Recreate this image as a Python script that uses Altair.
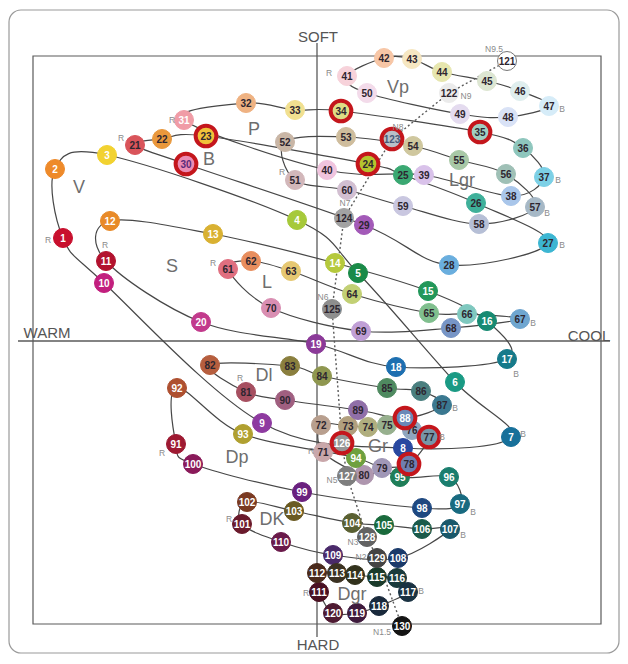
import altair as alt
import pandas as pd

# ---- colour numbers 1..130: position on the WARM(-)/COOL(+) and HARD(-)/SOFT(+) scale ----
nums = list(range(1, 131))
warm_cool = [
    -254, -262, -210, -20, 41, 138, 194, 86, -55, -213,
    -211, -207, -104, 18, 111, 170, 190, 79, -1, -116,
    -182, -155, -111, 51, 86, 159, 231, 132, 47, -131,
    -133, -71, -22, 24, 163, 206, 227, 194, 107, 10,
    30, 67, 95, 125, 170, 203, 232, 191, 143, 50,
    -22, -32, 29, 96, 142, 189, 218, 162, 86, 30,
    -89, -66, -26, 35, 112, 150, 203, 134, 44, -46,
    6, 4, 31, 51, 70, 95, 112, 92, 65, 47,
    -71, -107, -27, 5, 70, 104, 125, 88, 41, -32,
    -141, -140, -74, 39, 83, 132, 143, 105, -15, -124,
    -75, -70, -23, 35, 67, 105, 133, 81, 16, -36,
    2, 0, 20, 38, 60, 80, 91, 62, 40, 16,
    190, 132, 75, 27, 15, 25, 30, 50, 60, 85,
]
soft_hard = [
    103, 172, 186, 121, 68, -41, -96, -107, -82, 58,
    80, 120, 107, 78, 50, 20, -18, -26, -3, 19,
    196, 202, 205, 177, 166, 138, 98, 76, 116, 177,
    221, 238, 231, 230, 209, 193, 164, 145, 166, 171,
    265, 283, 282, 269, 260, 250, 235, 224, 227, 248,
    161, 199, 204, 195, 181, 167, 134, 117, 135, 151,
    72, 80, 70, 47, 28, 27, 22, 13, 10, 33,
    -111, -84, -85, -86, -84, -89, -96, -123, -127, -134,
    -51, -24, -25, -35, -47, -50, -64, -77, -69, -59,
    -103, -47, -93, -117, -136, -136, -163, -167, -151, -123,
    -183, -161, -170, -182, -184, -188, -188, -217, -214, -201,
    -251, -232, -232, -234, -236, -237, -251, -265, -272, -272,
    280, 248, 202, 123, 32, -102, -135, -196, -217, -285,
]
swatch = [
    "#c8102e", "#ee8a2a", "#f2d230", "#a6c93a", "#1a8a48", "#1a9a84", "#17709a", "#2848a0", "#8e3aa0", "#c21f7e",
    "#b2122e", "#e88a28", "#d9b132", "#b5c93c", "#22975a", "#178a72", "#167a8a", "#1d6fb0", "#8b3a98", "#c23a8c",
    "#d9545a", "#e9983c", "#f0c23a", "#b5c52e", "#3aa872", "#3fb09a", "#3cb6d2", "#6aaede", "#a35ab8", "#eb8cb4",
    "#f09ca6", "#efb282", "#f1e090", "#dede86", "#a0cfc2", "#8ec6bd", "#7cd0e6", "#a9c6ea", "#d9c2ea", "#f0c4de",
    "#f7d2da", "#f7c6a6", "#f6e7c2", "#e6e6ae", "#dde6d2", "#dfeeee", "#d6ecf8", "#d9e2f6", "#e4dbef", "#f3dbea",
    "#d2b7ba", "#c9b6a6", "#cfbd9d", "#cfc79e", "#a8c8a6", "#9fc0b6", "#a6b8c6", "#b6bfd6", "#c9c7e0", "#d2bfd1",
    "#e06f80", "#e88e5e", "#e6c872", "#c2d074", "#80bf8e", "#7fc8bf", "#6fa6d0", "#7795c6", "#c09fd6", "#d98eb2",
    "#c9a7aa", "#b89f8e", "#b19f7e", "#b0ae7e", "#97b08e", "#8fa6bf", "#7896a8", "#6f7fb0", "#a097b7", "#ae96ae",
    "#a64f60", "#b65e3e", "#8a7f3e", "#8f9750", "#4f8a60", "#4a7f7f", "#3a7890", "#6a88b8", "#906fa8", "#a05f80",
    "#9e1a32", "#ae5030", "#b0a030", "#6ea03e", "#1f7e58", "#1a7e6e", "#186a80", "#1e4880", "#6a207e", "#8a1a5a",
    "#6a1a2c", "#7a3a22", "#6a5a22", "#5a6032", "#1a6a3c", "#1a5a4a", "#1a586a", "#1a3a6a", "#4a2a6a", "#6a1a4a",
    "#4a1022", "#4a2a1c", "#3c3222", "#32321c", "#1a3a2a", "#1a3a3c", "#1a3242", "#1a2a3c", "#3e1a3c", "#4e1a32",
    "#ffffff", "#ebebeb", "#b9c0c8", "#a2a2a2", "#8e8e8e", "#969696", "#7e7e7e", "#626262", "#444444", "#141414",
]
ring_nums = [23, 24, 30, 34, 35, 77, 78, 88, 123, 126]
light_text_nums = list(range(1, 21)) + [31, 88] + list(range(91, 121)) + list(range(126, 131))

tone_names = ["V", "S", "B", "P", "Vp", "Lgr", "L", "Gr", "Dl", "Dp", "Dk", "Dgr"]
neutral_path = list(range(121, 131))

# tone group labels
tone_label_text = ["V", "S", "B", "P", "Vp", "Lgr", "L", "Dl", "Gr", "Dp", "DK", "Dgr"]
tone_label_x = [-238, -145, -108, -63, 81, 145, -50, -53, 61, -80, -45, 35]
tone_label_y = [153, 74, 181, -30 + 241, 253, 160, 58, -35, -106, -117, -179, -254]

# small hue / neutral notes
note_text = (["R"] * 12) + (["B"] * 12) + ["N9.5", "N9", "N8", "N7", "N6", "N5", "N3", "N2", "N1.5"]
note_x = [-269, -212, -196, -145, 12, -35, -104, -6, -77, -155, -88, -11,
          206, 199, 245, 241, 245, 230, 216, 125, 138, 156, 146, 104,
          177, 149, 81, 28, 6, 15, 36, 44, 65]
note_y = [101, 96, 203, 221, 268, 169, 78, -110, -37, -112, -178, -252,
          -93, -33, 96, 161, 232, 128, 18, -96, -67, -171, -194, -250,
          292, 245, 214, 138, 44, -139, -201, -216, -291]

axis_words = ["SOFT", "HARD", "WARM", "COOL"]
axis_word_x = [1, 1, -270, 272]
axis_word_y = [304, -304, 8, 5]

# frame pieces
frame_box = [-284, 284, -283, 285]      # x, x2, y, y2
outer_box = [-308, 302, -312, 331]
h_axis = [-299, 293]
v_axis = [-296, 298]

# ---------------- build tables ----------------
pts = pd.DataFrame({"num": nums, "x": warm_cool, "y": soft_hard, "fill": swatch})
pts["label"] = pts["num"].astype(str)
pts["tcolor"] = ["#ffffff" if n in light_text_nums else "#2e2630" for n in nums]
pts.loc[pts["num"] == 30, "tcolor"] = "#5a2a7a"
pts.loc[pts["num"] == 123, "tcolor"] = "#4a5a78"
pts["stroke"] = ["#777777" if n == 121 else c for n, c in zip(nums, swatch)]
pts["ring"] = pts["num"].isin(ring_nums)

loop_rows = []
for g, name in enumerate(tone_names):
    for k in range(10):
        n = g * 10 + k + 1
        loop_rows.append({"tone": name, "seq": k, "x": warm_cool[n - 1], "y": soft_hard[n - 1]})
loops = pd.DataFrame(loop_rows)

neutral = pd.DataFrame({"seq": range(len(neutral_path)),
                        "x": [warm_cool[n - 1] for n in neutral_path],
                        "y": [soft_hard[n - 1] for n in neutral_path]})

xs = alt.Scale(domain=[-309, 303], nice=False, zero=False)
ys = alt.Scale(domain=[-313, 333], nice=False, zero=False)
X = alt.X("x:Q", scale=xs, axis=None)
Y = alt.Y("y:Q", scale=ys, axis=None)

FONT = "Liberation Sans"

outer = alt.Chart(pd.DataFrame({"x": [outer_box[0]], "x2": [outer_box[1]], "y": [outer_box[2]], "y2": [outer_box[3]]})).mark_rect(
    fill=None, stroke="#9a9a9a", strokeWidth=1.2, cornerRadius=12
).encode(x=X, x2="x2:Q", y=Y, y2="y2:Q")

frame = alt.Chart(pd.DataFrame({"x": [frame_box[0]], "x2": [frame_box[1]], "y": [frame_box[2]], "y2": [frame_box[3]]})).mark_rect(
    fill=None, stroke="#5a5a5a", strokeWidth=1.2
).encode(x=X, x2="x2:Q", y=Y, y2="y2:Q")

hrule = alt.Chart(pd.DataFrame({"x": [h_axis[0]], "x2": [h_axis[1]], "y": [0]})).mark_rule(
    color="#5a5a5a", strokeWidth=1.3).encode(x=X, x2="x2:Q", y=Y)
vrule = alt.Chart(pd.DataFrame({"x": [0], "y": [v_axis[0]], "y2": [v_axis[1]]})).mark_rule(
    color="#5a5a5a", strokeWidth=1.3).encode(x=X, y=Y, y2="y2:Q")

loop_lines = alt.Chart(loops).mark_line(
    interpolate="cardinal-closed", color="#474747", strokeWidth=1.2
).encode(x=X, y=Y, detail="tone:N", order="seq:Q")

neutral_line = alt.Chart(neutral).mark_line(
    color="#5a5a5a", strokeWidth=1.4, strokeDash=[2, 2.5]
).encode(x=X, y=Y, order="seq:Q")

plain = pts[~pts["ring"]]
ringed = pts[pts["ring"]]

dots = alt.Chart(plain).mark_circle(size=360, opacity=1, strokeWidth=1).encode(
    x=X, y=Y, fill=alt.Fill("fill:N", scale=None), stroke=alt.Stroke("stroke:N", scale=None))
dot_txt = alt.Chart(plain).mark_text(font=FONT, fontSize=10, fontWeight="bold", baseline="middle", dy=0.5).encode(
    x=X, y=Y, text="label:N", color=alt.Color("tcolor:N", scale=None))

rdots = alt.Chart(ringed).mark_circle(size=430, opacity=1, stroke="#c4161c", strokeWidth=4).encode(
    x=X, y=Y, fill=alt.Fill("fill:N", scale=None))
rdot_txt = alt.Chart(ringed).mark_text(font=FONT, fontSize=10, fontWeight="bold", baseline="middle", dy=0.5).encode(
    x=X, y=Y, text="label:N", color=alt.Color("tcolor:N", scale=None))

tones = alt.Chart(pd.DataFrame({"x": tone_label_x, "y": tone_label_y, "t": tone_label_text})).mark_text(
    font=FONT, fontSize=18, color="#6e6e6e", baseline="middle").encode(x=X, y=Y, text="t:N")

notes = alt.Chart(pd.DataFrame({"x": note_x, "y": note_y, "t": note_text})).mark_text(
    font=FONT, fontSize=8.5, color="#8a8a8a", baseline="middle").encode(x=X, y=Y, text="t:N")

words = alt.Chart(pd.DataFrame({"x": axis_word_x, "y": axis_word_y, "t": axis_words})).mark_text(
    font=FONT, fontSize=15, color="#555555", baseline="middle").encode(x=X, y=Y, text="t:N")

chart = alt.layer(
    outer, frame, hrule, vrule, loop_lines, neutral_line,
    dots, dot_txt, rdots, rdot_txt, tones, notes, words
).properties(width=612, height=646, padding=0, autosize="none", background="white").configure_view(stroke=None)

chart.save("out.html", embed_options={"renderer": "svg", "actions": False})
